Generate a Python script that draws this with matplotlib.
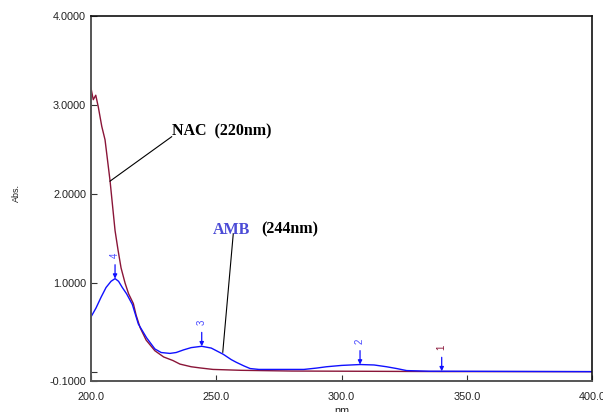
import numpy as np
import matplotlib
matplotlib.use('Agg')
from matplotlib import pyplot as plt

# spectra (wavelength nm, absorbance)
nac_wl = [200.0, 200.9, 201.9, 202.9, 204.3, 205.6, 207.6, 209.6, 210.8, 212.0, 213.6, 215.0,
          216.9, 218.0, 219.6, 222.0, 225.5, 229.0, 232.7, 235.5, 240.0, 243.5, 248.7,
          260.0, 280.0, 300.0, 340.0, 400.0]
nac_abs = [3.19, 3.06, 3.11, 2.98, 2.76, 2.61, 2.15, 1.59, 1.37, 1.17, 1.00, 0.88,
           0.77, 0.64, 0.50, 0.36, 0.24, 0.17, 0.13, 0.09, 0.06, 0.047, 0.03,
           0.02, 0.012, 0.01, 0.006, 0.005]

amb_wl = [200.0, 202.0, 204.0, 206.0, 208.0, 209.6, 211.0, 212.5, 214.2, 216.5, 218.9, 222.2,
          225.5, 228.0, 231.5, 234.0, 237.0, 240.0, 244.2, 248.0, 252.8, 256.0, 258.0, 261.0,
          263.5, 267.0, 285.0, 290.0, 294.0, 300.0, 307.4, 313.0, 318.0, 322.0, 326.0,
          335.0, 340.0, 400.0]
amb_abs = [0.62, 0.72, 0.84, 0.95, 1.02, 1.05, 1.02, 0.95, 0.88, 0.76, 0.54, 0.385,
           0.26, 0.22, 0.21, 0.22, 0.25, 0.275, 0.29, 0.27, 0.20, 0.14, 0.11, 0.07,
           0.04, 0.03, 0.03, 0.045, 0.06, 0.075, 0.085, 0.08, 0.06, 0.04, 0.017,
           0.01, 0.01, 0.005]

peak_no = ['1', '2', '3', '4']
peak_wl = [340.0, 307.4, 244.2, 209.6]
peak_abs = [0.01, 0.085, 0.29, 1.05]
peak_col = ['#8a1538', '#4a4aff', '#4a4aff', '#4a4aff']

x_ticks = [200, 250, 300, 350, 400]
x_labels = ['200.0', '250.0', '300.0', '350.0', '400.0']
y_ticks = [-0.1, 0, 1, 2, 3, 4]
y_labels = ['-0.1000', '', '1.0000', '2.0000', '3.0000', '4.0000']

NAC_COL = '#8a1538'
AMB_COL = '#1010ff'

fig = plt.figure(figsize=(6.03, 4.12), dpi=100)
ax = fig.add_axes([91 / 603, 1 - 381 / 412, 501 / 603, 365 / 412])

ax.plot(nac_wl, nac_abs, color=NAC_COL, lw=1.0)
ax.plot(amb_wl, amb_abs, color=AMB_COL, lw=1.0)

# peak pick markers
for n, w, a, c in zip(peak_no, peak_wl, peak_abs, peak_col):
    ax.annotate('', xy=(w, a), xytext=(0, 10), textcoords='offset points',
                xycoords='data',
                arrowprops=dict(arrowstyle='-|>', color=AMB_COL, lw=0.9,
                                mutation_scale=6, shrinkA=0, shrinkB=0))
    ax.annotate(n, xy=(w, a), xytext=(0, 17), textcoords='offset points',
                ha='center', va='center', rotation=90, fontsize=7,
                color=c, fontfamily='Liberation Sans')

# labels with leader lines
ax.plot([207.6, 232.2], [2.145, 2.644], color='black', lw=0.8)
ax.text(232.2, 2.70, 'NAC  (220nm)', fontsize=11.5, fontweight='bold',
        fontfamily='Liberation Serif', ha='left', va='center')
ax.plot([252.6, 256.8], [0.223, 1.556], color='black', lw=0.8)
ax.text(248.6, 1.60, 'AMB', fontsize=11.5, fontweight='bold', color='#4b4bd6',
        fontfamily='Liberation Serif', ha='left', va='center')
ax.text(268.1, 1.60, '(244nm)', fontsize=11.5, fontweight='bold',
        fontfamily='Liberation Serif', ha='left', va='center')

ax.set_xlim(200, 400)
ax.set_ylim(-0.1, 4.0)
ax.set_xticks(x_ticks)
ax.set_xticklabels(x_labels)
ax.set_yticks(y_ticks)
ax.set_yticklabels(y_labels)
ax.tick_params(direction='in', length=4.3, width=0.8, labelsize=7.8,
               labelcolor='#222222', color='#333333')
ax.tick_params(axis='x', pad=8)
ax.tick_params(axis='y', pad=3.6)
for lab in ax.get_xticklabels() + ax.get_yticklabels():
    lab.set_fontfamily('Liberation Sans')

for s in ['left', 'bottom']:
    ax.spines[s].set_color('#555555')
    ax.spines[s].set_linewidth(1.4)
for s in ['top', 'right']:
    ax.spines[s].set_color('#111111')
    ax.spines[s].set_linewidth(1.2)

fig.text(16.7 / 603, 1 - 193 / 412, 'Abs.', rotation=90, ha='center', va='center',
         fontsize=6.5, fontfamily='Liberation Sans', color='#222222')
fig.text(341.5 / 603, 1 - 406 / 412, 'nm', ha='center', va='top',
         fontsize=7.8, fontfamily='Liberation Sans', color='#222222')

fig.savefig('out.png', dpi=100)
